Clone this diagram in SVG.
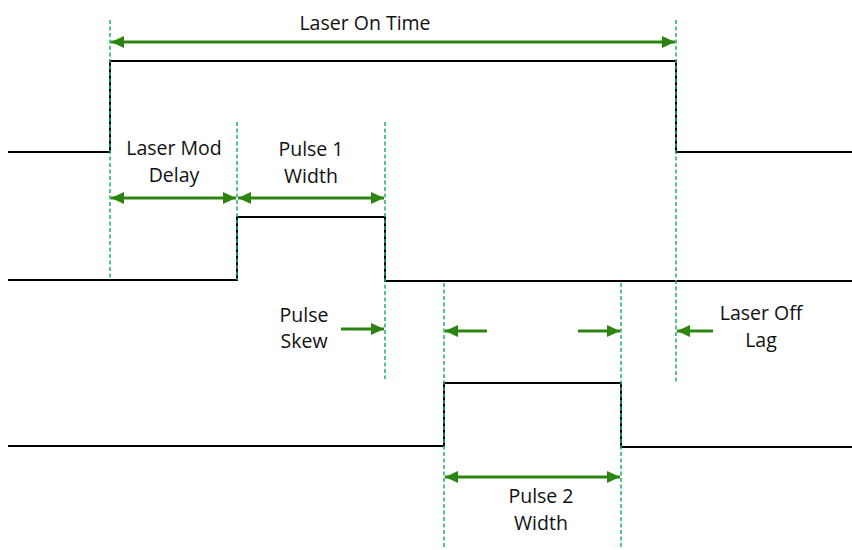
<svg xmlns="http://www.w3.org/2000/svg" width="852" height="550" viewBox="0 0 852 550">
<style>
.sig{fill:none;stroke:#000;stroke-width:2}
.guide{stroke:#1fb06a;stroke-width:1.5;stroke-dasharray:4 2.5}
.arr{stroke:#2e8410;stroke-width:3;fill:none}
.lbl{font-family:"Open Sans","Liberation Sans",sans-serif;font-size:19.5px;fill:#111;text-anchor:middle}
</style>
<defs>
<marker id="ah" viewBox="0 0 13 12" refX="13" refY="6" markerWidth="13" markerHeight="12" markerUnits="userSpaceOnUse" orient="auto-start-reverse">
<path d="M0,0 L13,6 L0,12 Z" fill="#2e8410"/>
</marker>
</defs>
<rect width="852" height="550" fill="#fff"/>
<g id="signals">
<polyline id="sig1" class="sig" points="8,152 110,152 110,61 676,61 676,152 852,152"/>
<polyline id="sig2" class="sig" points="8,280 237,280 237,217 385,217 385,281 852,281"/>
<polyline id="sig3" class="sig" points="8,446 444,446 444,383 621,383 621,447 852,447"/>
</g>
<g id="guides">
<line class="guide" x1="110" y1="20" x2="110" y2="280"/>
<line class="guide" x1="237" y1="122" x2="237" y2="280"/>
<line class="guide" x1="385" y1="122" x2="385" y2="379"/>
<line class="guide" x1="444" y1="283" x2="444" y2="548"/>
<line class="guide" x1="621" y1="283" x2="621" y2="548"/>
<line class="guide" x1="676" y1="20" x2="676" y2="383"/>
</g>
<g id="connectors">
<line class="arr" x1="111" y1="42" x2="675" y2="42" marker-start="url(#ah)" marker-end="url(#ah)"/>
<line class="arr" x1="111" y1="198" x2="236" y2="198" marker-start="url(#ah)" marker-end="url(#ah)"/>
<line class="arr" x1="238" y1="198" x2="384" y2="198" marker-start="url(#ah)" marker-end="url(#ah)"/>
<line class="arr" x1="341" y1="329" x2="384" y2="329" marker-end="url(#ah)"/>
<line class="arr" x1="487" y1="331" x2="445" y2="331" marker-end="url(#ah)"/>
<line class="arr" x1="578" y1="331" x2="620" y2="331" marker-end="url(#ah)"/>
<line class="arr" x1="713" y1="331" x2="677" y2="331" marker-end="url(#ah)"/>
<line class="arr" x1="445" y1="477" x2="620" y2="477" marker-start="url(#ah)" marker-end="url(#ah)"/>
</g>
<g id="labels">
<text class="lbl" x="365" y="30">Laser On Time</text>
<text class="lbl" x="174" y="155">Laser Mod</text>
<text class="lbl" x="174" y="182">Delay</text>
<text class="lbl" x="311" y="156">Pulse 1</text>
<text class="lbl" x="311" y="183">Width</text>
<text class="lbl" x="304" y="322">Pulse</text>
<text class="lbl" x="304" y="348">Skew</text>
<text class="lbl" x="761" y="320">Laser Off</text>
<text class="lbl" x="761" y="347">Lag</text>
<text class="lbl" x="541" y="503">Pulse 2</text>
<text class="lbl" x="541" y="530">Width</text>
</g>
</svg>
